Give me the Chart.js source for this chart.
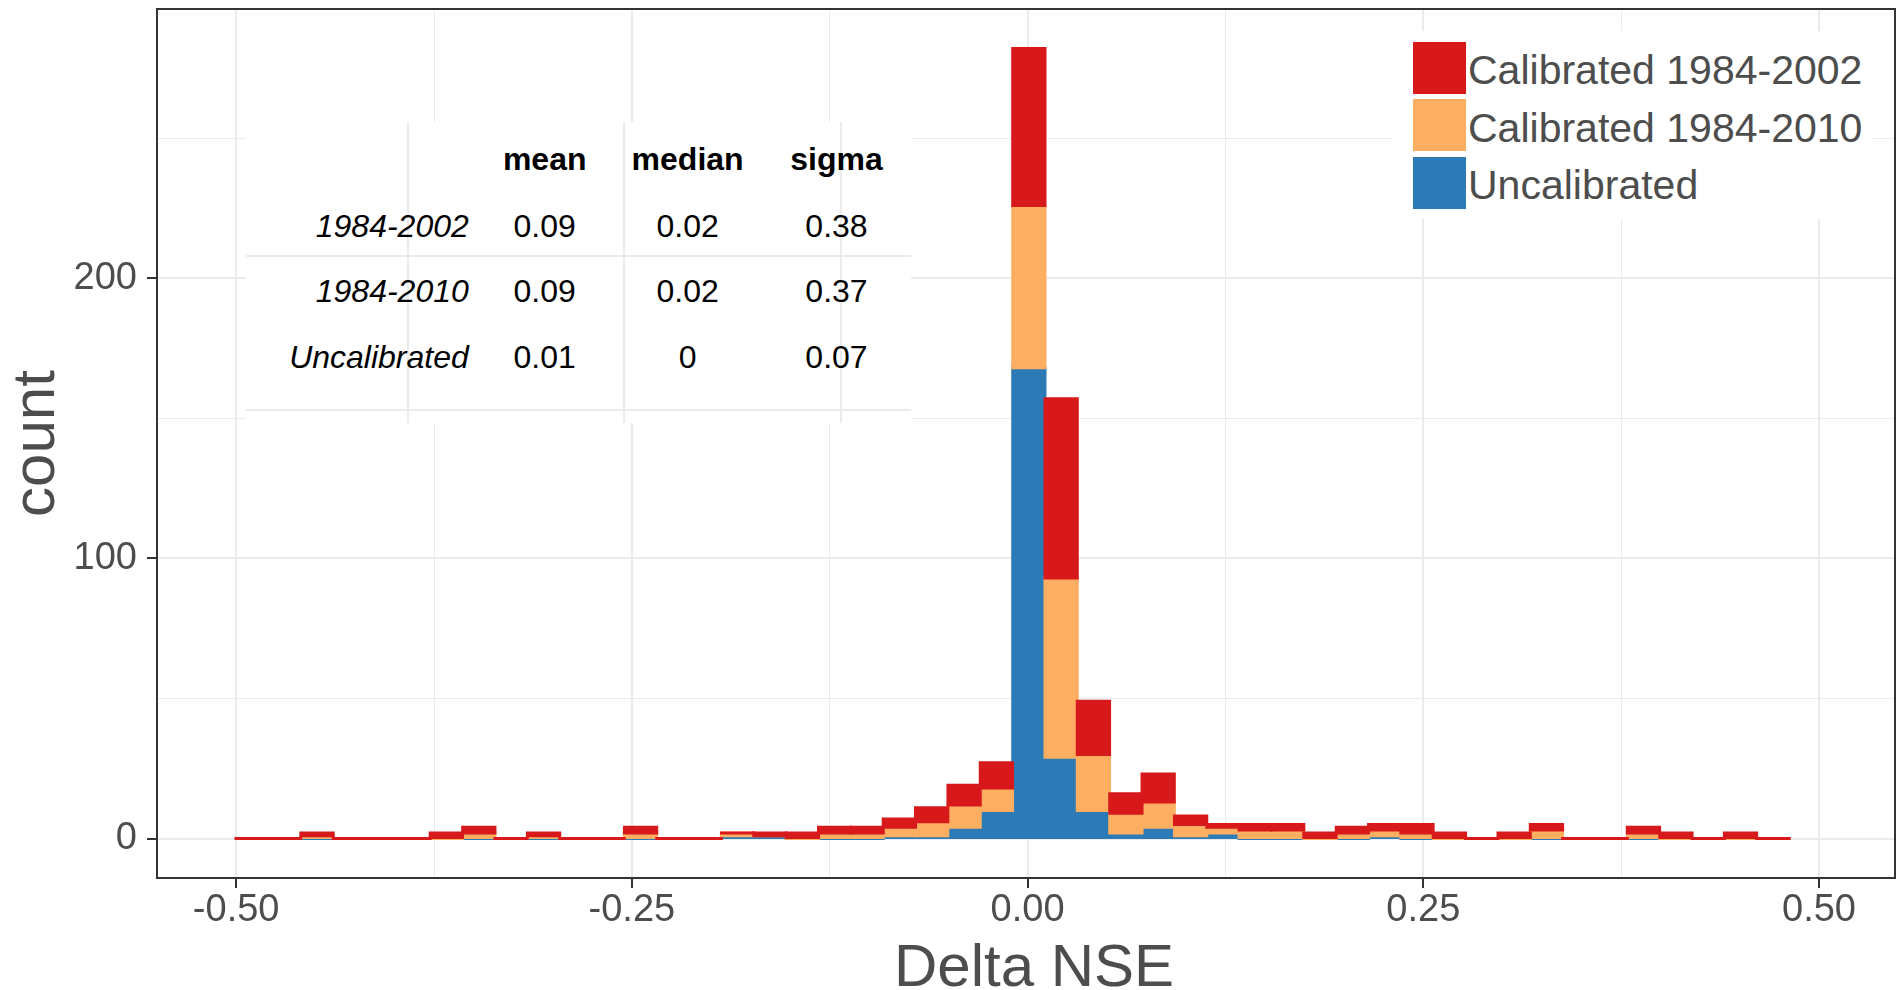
<!DOCTYPE html>
<html>
<head>
<meta charset="utf-8">
<title>Delta NSE histogram</title>
<script src="https://cdn.jsdelivr.net/npm/chart.js@4.4.1/dist/chart.umd.min.js"></script>
<style>
    html, body { margin: 0; padding: 0; background: #fff; }
    body { font-family: "Liberation Sans", Arial, sans-serif; }
    #wrap { position: relative; width: 1898px; height: 990px; overflow: hidden; }
    #chart { position: absolute; left: 0; top: 0; }
    .abs { position: absolute; white-space: nowrap; }
    .box { position: absolute; background: #fff; }
    .line { position: absolute; background: #ebebeb; }
</style>
</head>
<body>
<div id="wrap">
    <canvas id="chart" width="1898" height="990"></canvas>
</div>
<script>
// bin centres of the histogram (Delta NSE)
const binCenters = [
    -0.4898, -0.4694, -0.4489, -0.4285, -0.4080, -0.3876, -0.3672, -0.3467, -0.3263, -0.3058,
    -0.2854, -0.2650, -0.2445, -0.2241, -0.2036, -0.1832, -0.1628, -0.1423, -0.1219, -0.1014,
    -0.0810, -0.0606, -0.0401, -0.0197, 0.0008, 0.0212, 0.0416, 0.0621, 0.0825, 0.1030,
    0.1234, 0.1438, 0.1643, 0.1847, 0.2052, 0.2256, 0.2460, 0.2665, 0.2869, 0.3074,
    0.3278, 0.3482, 0.3687, 0.3891, 0.4096, 0.4300, 0.4504, 0.4709
];

// counts per bin
const uncalibrated = [
    0, 0, 0, 0, 0, 0, 0, 0, 0, 0,
    0, 0, 0, 0, 0, 1, 1, 0, 0, 0,
    1, 1, 4, 10, 168, 29, 10, 2, 4, 1,
    2, 0, 0, 0, 0, 1, 0, 0, 0, 0,
    0, 0, 0, 0, 0, 0, 0, 0
];
const calibrated2010 = [
    0, 0, 1, 0, 0, 0, 0, 2, 0, 1,
    0, 0, 2, 0, 0, 1, 0, 0, 2, 2,
    3, 5, 8, 8, 58, 64, 20, 7, 9, 4,
    2, 3, 3, 0, 2, 2, 2, 0, 0, 0,
    3, 0, 0, 2, 0, 0, 0, 0
];
const calibrated2002 = [
    0, 0, 1, 0, 0, 0, 2, 2, 0, 1,
    0, 0, 2, 0, 0, 0, 1, 2, 2, 2,
    3, 5, 7, 9, 56, 64, 19, 7, 10, 3,
    1, 2, 2, 2, 2, 2, 3, 2, 0, 2,
    2, 0, 0, 2, 2, 0, 2, 0
];

const seriesNames = ['Calibrated 1984-2002', 'Calibrated 1984-2010', 'Uncalibrated'];
const seriesColors = ['#d7191c', '#fdae61', '#2c7bb6'];

const xMajor = [-0.5, -0.25, 0, 0.25, 0.5];
const xMinor = [-0.375, -0.125, 0.125, 0.375];
const yMajor = [0, 100, 200];
const yMinor = [50, 150, 250];

const xTitleText = 'Delta NSE';
const yTitleText = 'count';

// summary table
const statHeaders = ['mean', 'median', 'sigma'];
const statRows = ['1984-2002', '1984-2010', 'Uncalibrated'];
const statMean = ['0.09', '0.09', '0.01'];
const statMedian = ['0.02', '0.02', '0'];
const statSigma = ['0.38', '0.37', '0.07'];

const FONT = '"Liberation Sans", Arial, sans-serif';
const GREY30 = '#4d4d4d';
const GRID = '#ebebeb';

const isIn = (list, v) => list.some(m => Math.abs(m - v) < 1e-9);

// floating segments so that blue sits at the bottom but red is painted last (like ggplot)
function segments(counts, below) {
    return binCenters.map((x, i) => {
        const start = below.reduce((s, arr) => s + arr[i], 0);
        return { x: x, y: [start, start + counts[i]] };
    });
}

const panelBorder = {
    id: 'panelBorder',
    afterDatasetsDraw(chart) {
        const { ctx, chartArea: a } = chart;
        ctx.save();
        ctx.strokeStyle = '#333333';
        ctx.lineWidth = 2;
        ctx.strokeRect(a.left, a.top, a.right - a.left, a.bottom - a.top);
        ctx.restore();
    }
};

// x axis title, placed like ggplot's (just under the tick labels, close to the bottom edge)
const xAxisTitle = {
    id: 'xAxisTitle',
    afterDraw(chart) {
        const { ctx, chartArea: a } = chart;
        ctx.save();
        ctx.font = '60px ' + FONT;
        ctx.fillStyle = GREY30;
        ctx.textAlign = 'center';
        ctx.textBaseline = 'alphabetic';
        ctx.fillText(xTitleText, (a.left + a.right) / 2 + 8, chart.height - 4);
        ctx.restore();
    }
};

const barDefaults = {
    barPercentage: 1,
    categoryPercentage: 1,
    grouped: false,
    borderWidth: 0,
    inflateAmount: 1.5
};

const chart = new Chart(document.getElementById('chart'), {
    type: 'bar',
    data: {
        datasets: [
            Object.assign({ label: seriesNames[0], backgroundColor: seriesColors[0],
                data: segments(calibrated2002, [uncalibrated, calibrated2010]) }, barDefaults),
            Object.assign({ label: seriesNames[1], backgroundColor: seriesColors[1],
                data: segments(calibrated2010, [uncalibrated]) }, barDefaults),
            Object.assign({ label: seriesNames[2], backgroundColor: seriesColors[2],
                data: segments(uncalibrated, []) }, barDefaults)
        ]
    },
    options: {
        responsive: false,
        animation: false,
        devicePixelRatio: 1,
        layout: { padding: { left: 0, right: 3, top: 9, bottom: 0 } },
        plugins: {
            legend: { display: false },
            tooltip: { enabled: false }
        },
        scales: {
            x: {
                type: 'linear',
                min: -0.55,
                max: 0.548,
                offset: false,
                afterBuildTicks: s => {
                    s.ticks = xMajor.concat(xMinor).sort((a, b) => a - b).map(v => ({ value: v }));
                },
                afterFit: s => {
                    s.height = 112;
                    s.paddingLeft = 0;
                    s.paddingRight = 0;
                },
                ticks: {
                    autoSkip: false,
                    maxRotation: 0,
                    padding: 0,
                    color: GREY30,
                    font: { family: FONT, size: 38 },
                    callback: v => isIn(xMajor, v) ? v.toFixed(2) : ''
                },
                grid: {
                    offset: false,
                    color: GRID,
                    lineWidth: c => (c.tick && isIn(xMajor, c.tick.value)) ? 2 : 1,
                    drawTicks: true,
                    tickLength: 10,
                    tickWidth: 2,
                    tickColor: c => (c.tick && isIn(xMajor, c.tick.value)) ? '#333333' : 'rgba(0,0,0,0)'
                },
                border: { display: false },
                title: { display: false }
            },
            y: {
                type: 'linear',
                min: -14.1,
                max: 296.1,
                afterBuildTicks: s => {
                    s.ticks = yMajor.concat(yMinor).sort((a, b) => a - b).map(v => ({ value: v }));
                },
                afterFit: s => {
                    s.width = 157;
                    s.paddingTop = 0;
                    s.paddingBottom = 0;
                },
                ticks: {
                    autoSkip: false,
                    padding: 10,
                    color: GREY30,
                    font: { family: FONT, size: 38 },
                    callback: v => isIn(yMajor, v) ? String(v) : ''
                },
                grid: {
                    color: GRID,
                    lineWidth: c => (c.tick && isIn(yMajor, c.tick.value)) ? 2 : 1,
                    drawTicks: true,
                    tickLength: 10,
                    tickWidth: 2,
                    tickColor: c => (c.tick && isIn(yMajor, c.tick.value)) ? '#333333' : 'rgba(0,0,0,0)'
                },
                border: { display: false },
                title: {
                    display: true,
                    text: yTitleText,
                    color: GREY30,
                    font: { family: FONT, size: 60, lineHeight: 1 },
                    padding: { top: 7, bottom: 0 }
                }
            }
        }
    },
    plugins: [panelBorder, xAxisTitle]
});

// ---- html overlays: legend and summary table ----
const wrap = document.getElementById('wrap');

function addBox(cls, x, y, w, h) {
    const el = document.createElement('div');
    el.className = cls;
    el.style.left = x + 'px';
    el.style.top = y + 'px';
    el.style.width = w + 'px';
    el.style.height = h + 'px';
    wrap.appendChild(el);
    return el;
}

function addText(text, x, baseline, opts) {
    const el = document.createElement('span');
    el.className = 'abs';
    el.textContent = text;
    el.style.fontFamily = FONT;
    el.style.fontSize = opts.size + 'px';
    el.style.lineHeight = opts.size + 'px';
    el.style.color = opts.color || '#000';
    if (opts.bold) el.style.fontWeight = 'bold';
    if (opts.italic) el.style.fontStyle = 'italic';
    // baseline is ~0.8465em below the top of a 1em line box
    el.style.top = (baseline - opts.size * 0.8465) + 'px';
    wrap.appendChild(el);
    const w = el.getBoundingClientRect().width;
    let left = x;
    if (opts.align === 'right') left = x - w;
    if (opts.align === 'center') left = x - w / 2;
    el.style.left = left + 'px';
}

// legend, built from the chart's datasets
addBox('box', 1393, 31, 480, 188);
chart.data.datasets.forEach((ds, i) => {
    const top = 41.7 + i * 57.5;
    const key = addBox('abs', 1413, top, 53, 52);
    key.style.background = ds.backgroundColor;
    addText(ds.label, 1468, top + 43.3, { size: 41, color: GREY30 });
});

// summary table
addBox('box', 246, 122, 665, 301);
[408, 624, 841].forEach(x => addBox('line', x - 1, 122, 2, 301));
[256, 410].forEach(y => addBox('line', 246, y - 1, 665, 2));

const colCenters = [544.7, 687.6, 836.5];
const rowBaselines = [236.7, 301.7, 368];
statHeaders.forEach((h, j) => addText(h, colCenters[j], 170, { size: 32, bold: true, align: 'center' }));
statRows.forEach((r, i) => {
    addText(r, 468.8, rowBaselines[i], { size: 32, italic: true, align: 'right' });
    [statMean, statMedian, statSigma].forEach((col, j) => {
        addText(col[i], colCenters[j], rowBaselines[i], { size: 32, align: 'center' });
    });
});
</script>
</body>
</html>
